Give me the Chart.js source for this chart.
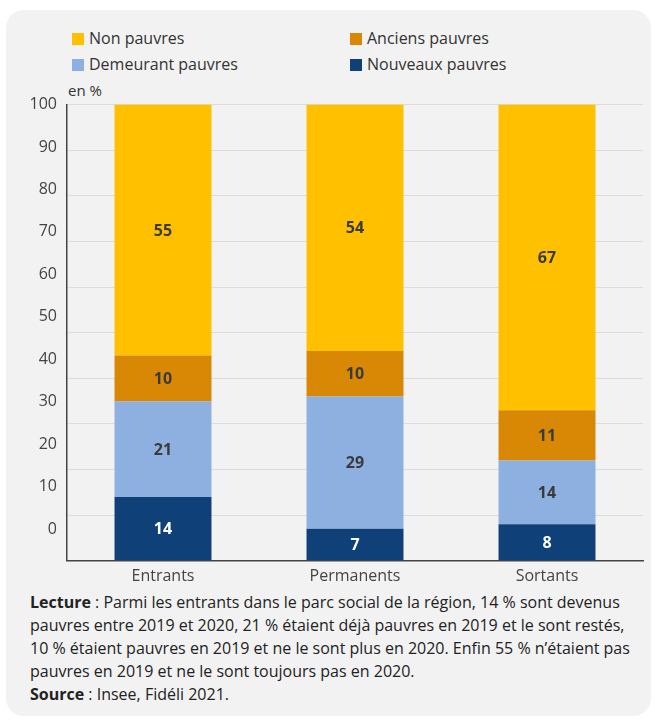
<!DOCTYPE html>
<html>
<head>
<meta charset="utf-8">
<script src="https://cdn.jsdelivr.net/npm/chart.js@4"></script>
<style>
html,body{margin:0;padding:0;background:#fff;width:655px;height:722px;overflow:hidden;font-family:"Open Sans",sans-serif;color:#333;}
#panel{position:absolute;left:6px;top:10px;width:645px;height:706px;background:#f2f2f2;border-radius:18px;}
#legend{position:absolute;left:72px;top:28px;width:560px;}
.li{position:absolute;font-size:16px;line-height:20px;white-space:nowrap;color:#333;}
.sw{display:inline-block;width:12px;height:12px;margin-right:5px;vertical-align:-1px;}
#unit{position:absolute;left:68px;top:80px;font-size:15px;color:#333;}
#wrap{position:absolute;left:0;top:85px;width:655px;height:499px;}
#notes{position:absolute;left:30px;top:591px;font-size:16px;line-height:23px;color:#222;white-space:nowrap;}
</style>
</head>
<body>
<div id="panel"></div>
<div id="legend"></div>
<div id="unit">en %</div>
<div id="wrap"><canvas id="c"></canvas></div>
<div id="notes"><b>Lecture</b> : Parmi les entrants dans le parc social de la région, 14 % sont devenus<br>pauvres entre 2019 et 2020, 21 % étaient déjà pauvres en 2019 et le sont restés,<br>10 % étaient pauvres en 2019 et ne le sont plus en 2020. Enfin 55 % n’étaient pas<br>pauvres en 2019 et ne le sont toujours pas en 2020.<br><b>Source</b> : Insee, Fidéli 2021.</div>
<script>
const categories = ["Entrants", "Permanents", "Sortants"];
const nouveauxPauvres = [14, 7, 8];
const demeurantPauvres = [21, 29, 14];
const anciensPauvres = [10, 10, 11];
const nonPauvres = [55, 54, 67];
const yTicks = [0, 10, 20, 30, 40, 50, 60, 70, 80, 90, 100];

const datasets = [
  {label: "Nouveaux pauvres", data: nouveauxPauvres, backgroundColor: "#0f4078", labelColor: "#ffffff"},
  {label: "Demeurant pauvres", data: demeurantPauvres, backgroundColor: "#8eb0e0", labelColor: "#3a3a3a"},
  {label: "Anciens pauvres", data: anciensPauvres, backgroundColor: "#d98805", labelColor: "#3a3a3a"},
  {label: "Non pauvres", data: nonPauvres, backgroundColor: "#ffc000", labelColor: "#3a3a3a"}
];

const valueLabels = {
  id: "valueLabels",
  afterDatasetsDraw(chart) {
    const ctx = chart.ctx;
    ctx.save();
    ctx.font = "bold 16px 'Open Sans'";
    ctx.textAlign = "center";
    ctx.textBaseline = "middle";
    chart.data.datasets.forEach((ds, i) => {
      const meta = chart.getDatasetMeta(i);
      meta.data.forEach((el, j) => {
        ctx.fillStyle = ds.labelColor;
        ctx.fillText(String(ds.data[j]), el.x, (el.y + el.base) / 2 + 1);
      });
    });
    ctx.restore();
  }
};

const chart = new Chart(document.getElementById("c"), {
  type: "bar",
  data: {labels: categories, datasets: datasets},
  options: {
    responsive: true,
    maintainAspectRatio: false,
    animation: false,
    devicePixelRatio: 1,
    layout: {padding: {top: 8, right: 12, left: 0, bottom: 0}},
    datasets: {bar: {categoryPercentage: 1, barPercentage: 0.505, borderWidth: 0}},
    plugins: {legend: {display: false}, tooltip: {enabled: false}},
    scales: {
      x: {
        stacked: true,
        grid: {display: false},
        border: {display: true, color: "#444", width: 1.5},
        ticks: {color: "#444", font: {family: "Open Sans", size: 16}, padding: -2}
      },
      y: {
        stacked: true,
        min: 0, max: 100,
        weight: 0,
        grid: {color: "#dcdcdc", lineWidth: 1, drawTicks: false},
        border: {display: true, color: "#444", width: 1.5},
        ticks: {display: false, stepSize: 10},
        afterFit(s) { s.width = 0; }
      },
      yl: {
        type: "linear",
        position: "left",
        weight: 1,
        min: -7.5, max: 100,
        grid: {display: false, drawTicks: false},
        border: {display: false},
        ticks: {color: "#444", font: {family: "Open Sans", size: 16}, padding: 10},
        afterBuildTicks(s) { s.ticks = yTicks.map(v => ({value: v})); },
        afterFit(s) { s.width = 67; }
      }
    }
  },
  plugins: [valueLabels]
});

const legendOrder = [3, 2, 1, 0];
const legendPos = [[0, 0], [278, 0], [0, 26], [278, 26]];
const lg = document.getElementById("legend");
legendOrder.forEach((di, k) => {
  const ds = chart.data.datasets[di];
  const d = document.createElement("div");
  d.className = "li";
  d.style.left = legendPos[k][0] + "px";
  d.style.top = legendPos[k][1] + "px";
  d.innerHTML = '<span class="sw" style="background:' + ds.backgroundColor + '"></span>' + ds.label;
  lg.appendChild(d);
});
</script>
</body>
</html>
